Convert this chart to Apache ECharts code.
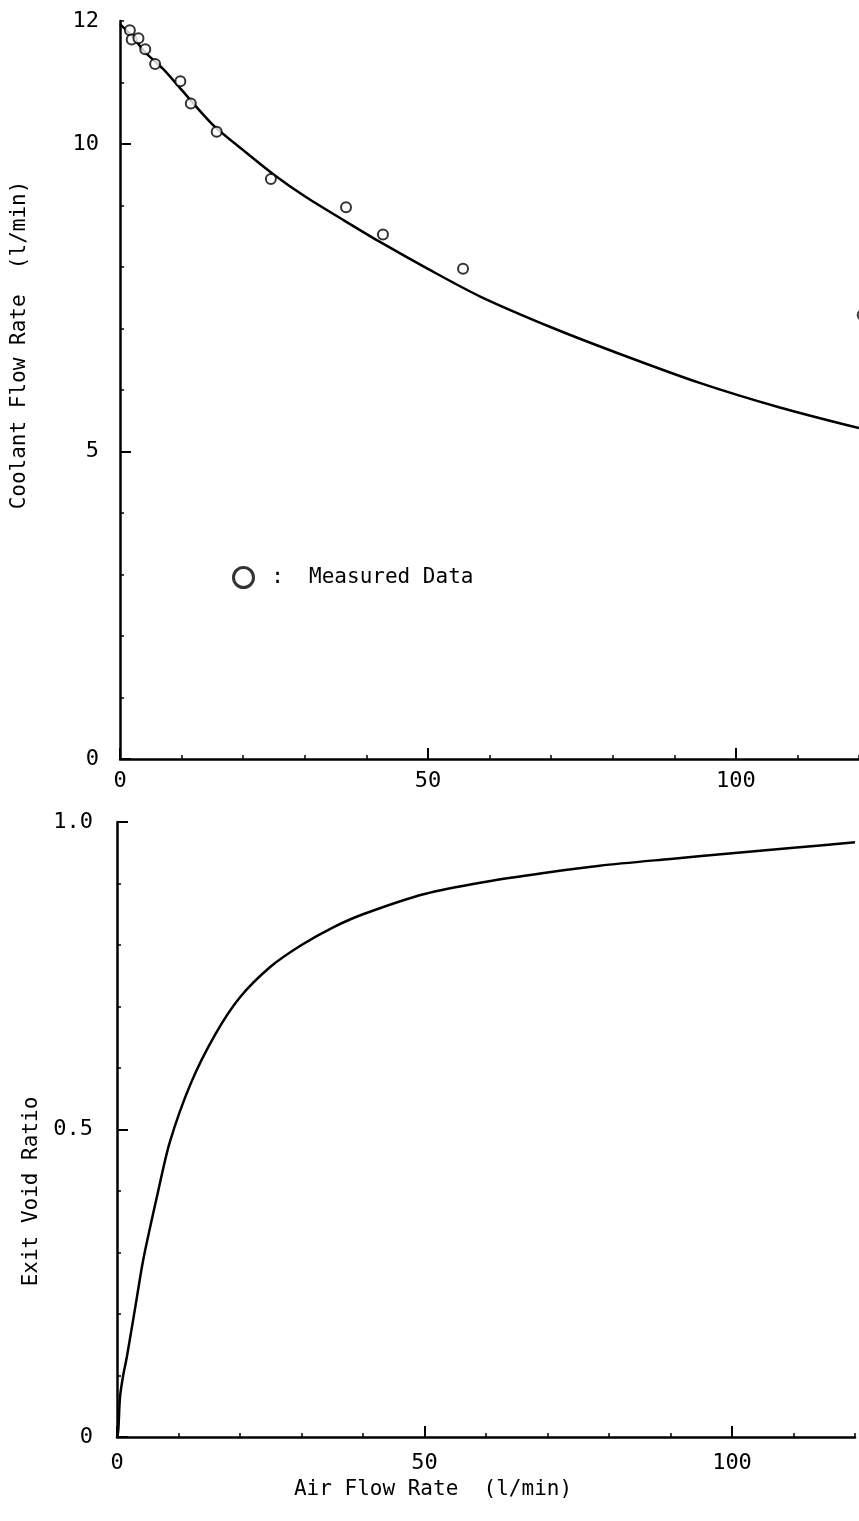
<!DOCTYPE html>
<html>
<head>
<meta charset="utf-8">
<script src="https://cdn.jsdelivr.net/npm/echarts@6/dist/echarts.min.js"></script>
<style>
html,body{margin:0;padding:0;background:#fff;}
#c{width:859px;height:1521px;}
</style>
</head>
<body>
<div id="c"></div>
<script>
// ---- data ----
const measuredAir = [1.6, 1.9, 3.0, 4.1, 5.7, 9.8, 11.5, 15.7, 24.5, 36.7, 42.7, 55.7, 120.6];
const measuredCoolant = [11.85, 11.70, 11.72, 11.54, 11.30, 11.02, 10.66, 10.20, 9.43, 8.97, 8.53, 7.97, 7.22];

const coolantCurveAir = [0, 2, 4, 7, 10, 15, 20, 25, 30, 36, 42, 50, 58.5, 70, 80, 94, 107, 120];
const coolantCurveRate = [11.95, 11.75, 11.5, 11.22, 10.88, 10.32, 9.9, 9.5, 9.15, 8.78, 8.42, 7.97, 7.52, 7.02, 6.63, 6.12, 5.72, 5.38];

const voidCurveAir = [0, 0.2, 0.5, 1.0, 1.6, 3.2, 4.3, 6.7, 8.6, 12, 16, 20, 25, 30, 35, 40, 50, 60, 70, 78.5, 90, 100, 110, 120];
const voidCurveRatio = [0, 0.01, 0.066, 0.10, 0.13, 0.225, 0.29, 0.40, 0.48, 0.575, 0.655, 0.715, 0.765, 0.80, 0.828, 0.85, 0.883, 0.903, 0.918, 0.929, 0.94, 0.949, 0.958, 0.967];

const airLabelValues = [0, 50, 100];
const coolantLabelValues = [0, 5, 10, 12];
const coolantMajorTicks = [0, 5, 10];
const voidLabelValues = [0, 0.5, 1.0];
const voidMajorTicks = [0, 0.5, 1.0];

const legendLabel = 'Measured Data';
const coolantTitle = 'Coolant Flow Rate  (l/min)';
const voidTitle = 'Exit Void Ratio';
const airTitle = 'Air Flow Rate  (l/min)';

// ---- chart ----
const FONT = 'DejaVu Sans Mono';
const BLACK = '#000';
const chart = echarts.init(document.getElementById('c'), null, {renderer: 'canvas'});

const zip = (a, b) => a.map((v, i) => [v, b[i]]);

const topGrid = {left: 120, right: 0, top: 21, bottom: 762};
const botGrid = {left: 117, right: 4, top: 822, bottom: 84};

function minorAxis(gridIndex, min, max, interval, labelValues, fmt, margin, extra) {
  return Object.assign({
    gridIndex, type: 'value', min, max, interval,
    axisLine: {show: true, onZero: false, lineStyle: {color: BLACK, width: 2.5}},
    axisTick: {show: true, inside: true, length: 4, lineStyle: {color: BLACK, width: 1.5}},
    axisLabel: {show: true, customValues: labelValues, formatter: fmt, margin,
      color: BLACK, fontSize: 22, fontFamily: FONT},
    splitLine: {show: false}
  }, extra || {});
}
function majorAxis(gridIndex, min, max, ticks) {
  return {
    gridIndex, type: 'value', min, max,
    axisLine: {show: false},
    axisTick: {show: true, inside: true, length: 11, customValues: ticks, lineStyle: {color: BLACK, width: 2}},
    axisLabel: {show: false},
    splitLine: {show: false}
  };
}

const option = {
  animation: false,
  backgroundColor: '#fff',
  grid: [topGrid, botGrid, Object.assign({}, topGrid), Object.assign({}, botGrid)],
  legend: {
    show: true,
    left: 227, top: 561,
    itemWidth: 20, itemHeight: 20,
    data: [{name: legendLabel, icon: 'circle',
      itemStyle: {color: '#fff', borderColor: BLACK, borderWidth: 3}}],
    formatter: n => ' :  ' + n,
    textStyle: {color: BLACK, fontSize: 21, fontFamily: FONT}
  },
  xAxis: [
    minorAxis(0, 0, 120, 10, airLabelValues, v => String(v), 11),
    minorAxis(1, 0, 120, 10, airLabelValues, v => String(v), 15, {
      name: airTitle, nameLocation: 'middle', nameGap: 42,
      nameTextStyle: {color: BLACK, fontSize: 21, fontFamily: FONT, padding: [0, 106, 0, 0]}
    }),
    majorAxis(2, 0, 120, airLabelValues),
    majorAxis(3, 0, 120, airLabelValues)
  ],
  yAxis: [
    minorAxis(0, 0, 12, 1, coolantLabelValues, v => String(v), 21, {
      name: coolantTitle, nameLocation: 'middle', nameGap: 90,
      nameTextStyle: {color: BLACK, fontSize: 21, fontFamily: FONT, padding: [0, 0, 0, 90]}
    }),
    minorAxis(1, 0, 1, 0.1, voidLabelValues, v => (v === 0 ? '0' : v.toFixed(1)), 24, {
      name: voidTitle, nameLocation: 'middle', nameGap: 75,
      nameTextStyle: {color: BLACK, fontSize: 21, fontFamily: FONT, padding: [0, 124, 0, 0]}
    }),
    majorAxis(2, 0, 12, coolantMajorTicks),
    majorAxis(3, 0, 1, voidMajorTicks)
  ],
  series: [
    {
      name: 'Calculated coolant', type: 'line', xAxisIndex: 0, yAxisIndex: 0,
      data: zip(coolantCurveAir, coolantCurveRate), smooth: 0.3, showSymbol: false,
      lineStyle: {color: BLACK, width: 2.5}, z: 2
    },
    {
      name: legendLabel, type: 'scatter', xAxisIndex: 0, yAxisIndex: 0,
      data: zip(measuredAir, measuredCoolant), symbol: 'circle', symbolSize: 10, clip: false,
      itemStyle: {color: '#fff', borderColor: BLACK, borderWidth: 2}, z: 3
    },
    {
      name: 'Calculated void', type: 'line', xAxisIndex: 1, yAxisIndex: 1,
      data: zip(voidCurveAir, voidCurveRatio), smooth: 0.3, showSymbol: false,
      lineStyle: {color: BLACK, width: 2.5}, z: 2
    }
  ]
};
chart.setOption(option);
</script>
</body>
</html>
